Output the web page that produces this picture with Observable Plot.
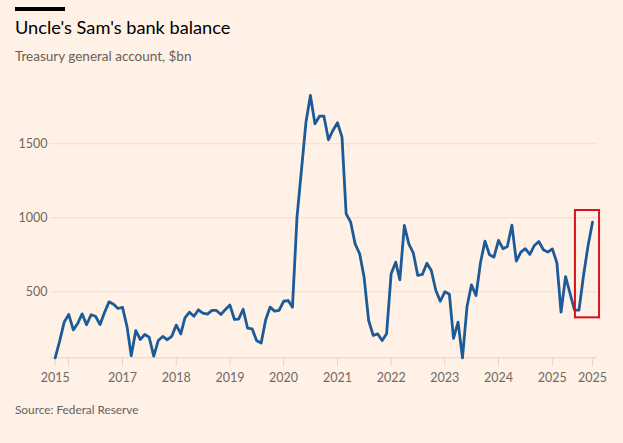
<!DOCTYPE html>
<html>
<head>
<meta charset="utf-8">
<script src="https://cdn.jsdelivr.net/npm/d3@7"></script>
<script src="https://cdn.jsdelivr.net/npm/@observablehq/plot@0.6"></script>
<style>
  html, body { margin: 0; padding: 0; background: #fff1e5; }
  body { width: 623px; height: 443px; position: relative; overflow: hidden; font-family: Lato, "Noto Sans", sans-serif; }
  #bar { position: absolute; left: 15px; top: 7px; width: 50px; height: 3.5px; background: #000; }
  #title { position: absolute; left: 15px; top: 15.3px; font-size: 18.2px; line-height: 24px; color: #000; white-space: nowrap; }
  #subtitle { position: absolute; left: 15px; top: 47.8px; font-size: 13.5px; line-height: 16px; color: #66605c; white-space: nowrap; }
  #chart { position: absolute; left: 0; top: 70px; }
  #source { position: absolute; left: 15px; top: 402px; font-size: 11.8px; line-height: 15px; color: #66605c; white-space: nowrap; }
</style>
</head>
<body>
<div id="bar"></div>
<div id="title">Uncle's Sam's bank balance</div>
<div id="subtitle">Treasury general account, $bn</div>
<div id="chart"></div>
<div id="source">Source: Federal Reserve</div>
<script>
// Monthly Treasury general account balance, $bn, Oct 2015 – Oct 2025
const firstMonth = "2015-10-01";
const lastMonth = "2025-10-01";
const values2015 = [54, 170, 295];
const values2016 = [347, 243, 284, 351, 277, 345, 335, 279, 362, 432, 416, 387];
const values2017 = [394, 261, 68, 238, 178, 211, 193, 65, 171, 198, 176, 198];
const values2018 = [275, 215, 324, 362, 335, 378, 355, 349, 374, 374, 347, 380];
const values2019 = [410, 313, 315, 382, 254, 250, 171, 153, 311, 396, 369, 374];
const values2020 = [436, 441, 396, 1004, 1320, 1646, 1826, 1635, 1686, 1686, 1527, 1590];
const values2021 = [1642, 1545, 1027, 970, 824, 757, 599, 306, 205, 216, 171, 216];
const values2022 = [622, 700, 581, 948, 824, 761, 610, 617, 693, 644, 509, 436];
const values2023 = [500, 484, 186, 295, 54, 401, 547, 475, 700, 842, 750, 734];
const values2024 = [847, 791, 806, 950, 707, 768, 791, 752, 813, 840, 784, 768];
const values2025 = [790, 695, 362, 603, 490, 376, 376, 610, 813, 970];

// x-axis ticks as shown on the original
const tickDates = ["2015-10-01", "2016-01-01", "2017-01-01", "2018-01-01", "2019-01-01", "2020-01-01",
                   "2021-01-01", "2022-01-01", "2023-01-01", "2024-01-01", "2025-01-01", "2025-10-01"];
const tickLabels = ["2015", "", "2017", "2018", "2019", "2020", "2021", "2022", "2023", "2024", "2025", "2025"];
const yTicks = [500, 1000, 1500];

// highlight box (annotation) around the latest rebound
const boxX = ["2025-06-07", "2025-11-18"];
const boxY = [324, 1049];

const values = [].concat(values2015, values2016, values2017, values2018, values2019,
  values2020, values2021, values2022, values2023, values2024, values2025);
const months = d3.utcMonth.range(new Date(firstMonth), d3.utcMonth.offset(new Date(lastMonth), 1));
const data = months.map((d, i) => ({date: d, value: values[i]}));
const tickDateObjs = tickDates.map(d => new Date(d));
const labelFor = new Map(tickDateObjs.map((d, i) => [+d, tickLabels[i]]));

const chart = Plot.plot({
  width: 623,
  height: 320,
  marginLeft: 50,
  marginRight: 26,
  marginTop: 25,
  marginBottom: 32.7,
  style: {background: "transparent", fontFamily: "Lato, 'Noto Sans', sans-serif", overflow: "visible"},
  x: {type: "utc", domain: [new Date(firstMonth), new Date(lastMonth)], insetLeft: 4.7, insetRight: 5},
  y: {domain: d3.extent(values)},
  marks: [
    Plot.ruleY(yTicks, {stroke: "#f0dfcf", strokeWidth: 1}),
    Plot.ruleY([d3.min(values)], {stroke: "#e6d4c4", strokeWidth: 1}),
    Plot.axisY(yTicks, {tickSize: 0, tickPadding: 3, fontSize: 12.5, color: "#6f6963", label: null, tickFormat: d3.format("d")}),
    Plot.axisX(tickDateObjs, {tickSize: 9, tickPadding: 6, fontSize: 12.5, stroke: "#e6d4c4", color: "#6f6963",
      tickFormat: d => labelFor.get(+d), label: null}),
    Plot.line(data, {x: "date", y: "value", stroke: "#1d5a98", strokeWidth: 2.8, strokeLinejoin: "round", strokeLinecap: "round"}),
    Plot.rect([{x1: new Date(boxX[0]), x2: new Date(boxX[1]), y1: boxY[0], y2: boxY[1]}],
      {x1: "x1", x2: "x2", y1: "y1", y2: "y2", fill: "none", stroke: "#d5141c", strokeWidth: 2})
  ]
});
document.getElementById("chart").appendChild(chart);
</script>
</body>
</html>
